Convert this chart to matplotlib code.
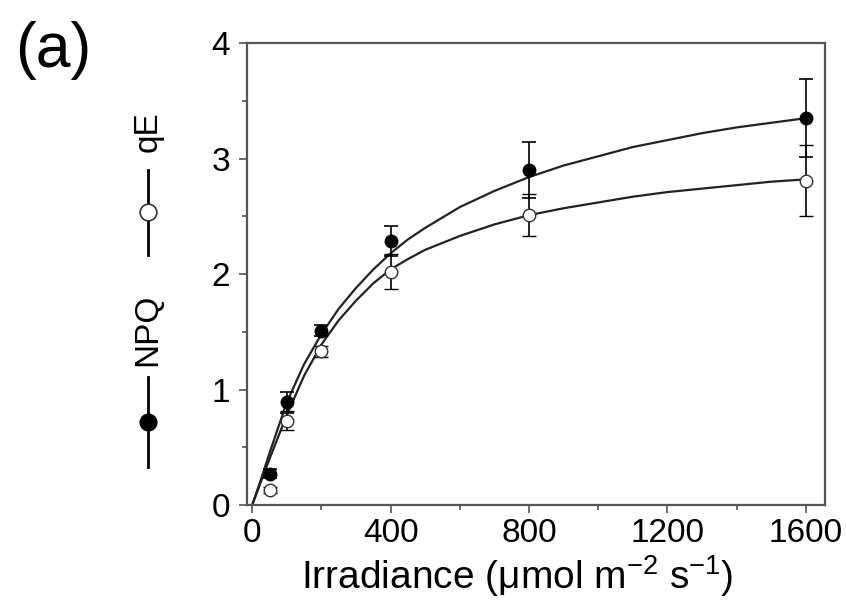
import matplotlib
matplotlib.use("Agg")
import matplotlib.pyplot as plt
from matplotlib.lines import Line2D
from matplotlib.ticker import MultipleLocator

plt.rcParams['font.family'] = ['Liberation Sans', 'DejaVu Sans']
plt.rcParams['mathtext.fontset'] = 'custom'
plt.rcParams['mathtext.rm'] = 'Liberation Sans'
plt.rcParams['mathtext.default'] = 'regular'

# measured points
irradiance = [50, 100, 200, 400, 800, 1600]
npq = [0.27, 0.89, 1.51, 2.29, 2.90, 3.35]
npq_err = [0.04, 0.09, 0.05, 0.13, 0.24, 0.34]
qe = [0.13, 0.73, 1.33, 2.02, 2.51, 2.81]
qe_err = [0.03, 0.08, 0.05, 0.15, 0.18, 0.31]

# fitted curves
fit_x = [0, 25, 50, 100, 150, 200, 250, 300, 350, 400, 450, 500, 600, 700, 800,
         900, 1000, 1100, 1200, 1300, 1400, 1500, 1600]
fit_npq = [0, 0.22, 0.45, 0.89, 1.22, 1.48, 1.70, 1.88, 2.04, 2.18, 2.30, 2.40, 2.58, 2.72, 2.84,
           2.94, 3.02, 3.10, 3.16, 3.22, 3.27, 3.31, 3.35]
fit_qe = [0, 0.20, 0.40, 0.78, 1.12, 1.39, 1.60, 1.77, 1.92, 2.04, 2.13, 2.21, 2.33, 2.43, 2.51,
          2.57, 2.62, 2.67, 2.71, 2.74, 2.77, 2.80, 2.82]

fig = plt.figure(figsize=(8.46, 6.03), dpi=100)
ax = fig.add_axes([0.292, 0.1625, 0.683, 0.766])

ax.plot(fit_x, fit_npq, color='#222222', lw=1.6, zorder=2)
ax.plot(fit_x, fit_qe, color='#222222', lw=1.6, zorder=2)
ax.errorbar(irradiance, npq, yerr=npq_err, fmt='o', color='black', ms=9,
            mfc='black', mec='black', elinewidth=1.2, capsize=5, capthick=1.2, zorder=3)
ax.errorbar(irradiance, qe, yerr=qe_err, fmt='o', color='black', ms=9,
            mfc='white', mec='#333333', mew=1.0, elinewidth=1.2, capsize=5, capthick=1.2, zorder=4)

ax.set_xlim(-15, 1655)
ax.set_ylim(0, 4)
ax.xaxis.set_major_locator(MultipleLocator(400))
ax.xaxis.set_minor_locator(MultipleLocator(200))
ax.yaxis.set_major_locator(MultipleLocator(1))
ax.yaxis.set_minor_locator(MultipleLocator(0.5))
ax.tick_params(which='both', direction='out', color='#555555', width=1.2, labelsize=24)
ax.tick_params(axis='y', pad=6)
ax.tick_params(which='major', length=6)
ax.tick_params(which='minor', length=3.5)
for s in ax.spines.values():
    s.set_color('#555555')
    s.set_linewidth(1.6)

ax.set_xlabel(r'Irradiance ($\mu$mol m$^{-2}$ s$^{-1}$)', fontsize=28)
ax.xaxis.set_label_coords(0.467, -0.105)

# vertical legend used as y label
W, H = 846, 603
lx = 148 / W

def seg(y0, y1):
    fig.add_artist(Line2D([lx, lx], [1 - y0 / H, 1 - y1 / H], transform=fig.transFigure,
                          color='black', lw=2))

seg(467, 428)
seg(416, 377)
fig.add_artist(Line2D([lx], [1 - 422 / H], transform=fig.transFigure, marker='o', ms=12,
                      mfc='black', mec='black', ls='none'))
fig.text(lx, 1 - 330 / H, 'NPQ', rotation=90, ha='center', va='center', fontsize=24)
seg(255, 216)
seg(208, 170)
fig.add_artist(Line2D([lx], [1 - 212 / H], transform=fig.transFigure, marker='o', ms=12,
                      mfc='white', mec='#333333', mew=1.2, ls='none', zorder=5))
fig.text(lx, 1 - 132 / H, 'qE', rotation=90, ha='center', va='center', fontsize=24)

fig.text(53 / W, 1 - 50 / H, '(a)', ha='center', va='center', fontsize=45)

fig.savefig('out.png', dpi=100)
